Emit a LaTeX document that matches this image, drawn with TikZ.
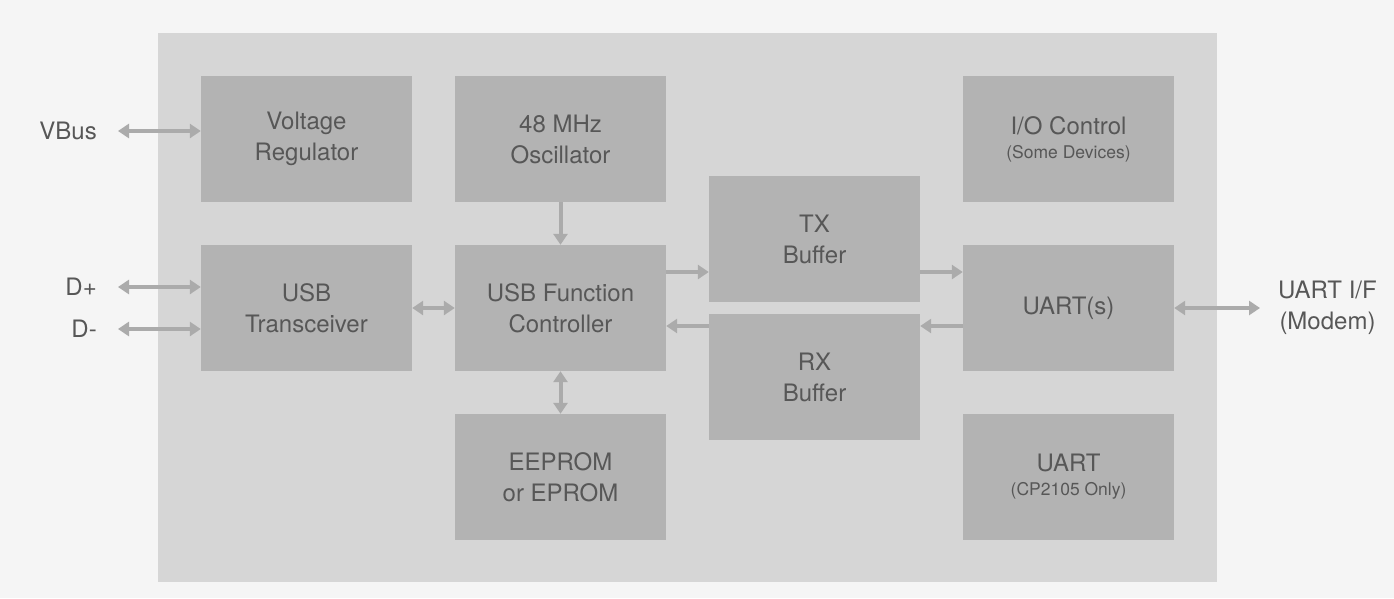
\documentclass[tikz,border=0pt]{standalone}
\usepackage{fontspec}
\setmainfont{TeX Gyre Heros}
\usetikzlibrary{arrows.meta}
\definecolor{pagebg}{HTML}{F5F5F5}
\definecolor{chipbg}{HTML}{D6D6D6}
\definecolor{blockbg}{HTML}{B3B3B3}
\definecolor{arrowc}{HTML}{ABABAB}
\definecolor{textc}{HTML}{575757}
\tikzset{
  block/.style={rectangle, fill=blockbg, minimum width=211pt, minimum height=126pt, inner sep=0pt, align=center, text=textc, font=\fontsize{24}{31}\selectfont},
  extlabel/.style={inner sep=0pt, text=textc, align=center, font=\fontsize{24}{31}\selectfont},
  arr/.style={draw=arrowc, line width=4pt, -{Triangle[length=11pt,width=14pt]}},
  darr/.style={draw=arrowc, line width=4pt, {Triangle[length=11pt,width=14pt]}-{Triangle[length=11pt,width=14pt]}}
}
\newcommand{\subtxt}[1]{{\fontsize{17.5}{20}\selectfont #1}}
\begin{document}
\begin{tikzpicture}[x=1pt,y=-1pt]
\fill[pagebg] (0,0) rectangle (1394,598);
\useasboundingbox (0,0) rectangle (1394,598);
\fill[chipbg] (158,33) rectangle (1217,582);

\node[block] (reg) at (306.5,139) {Voltage\\Regulator};
\node[block] (osc) at (560.5,139) {48 MHz\\Oscillator};
\node[block] (xcvr) at (306.5,308) {USB\\Transceiver};
\node[block] (ctrl) at (560.5,308) {USB Function\\Controller};
\node[block] (tx) at (814.5,239) {TX\\Buffer};
\node[block] (rx) at (814.5,377) {RX\\Buffer};
\node[block] (eeprom) at (560.5,477) {EEPROM\\or EPROM};
\node[block] (io) at (1068.5,139) {I/O Control\\[-7pt]\subtxt{(Some Devices)}};
\node[block] (uarts) at (1068.5,308) {UART(s)};
\node[block] (uart) at (1068.5,477) {UART\\[-7pt]\subtxt{(CP2105 Only)}};

\node[extlabel, anchor=east] (vbus) at (97,131) {VBus};
\node[extlabel, anchor=east] (dplus) at (97,287) {D+};
\node[extlabel, anchor=east] (dminus) at (97,329) {D-};
\node[extlabel, anchor=west] (uartif) at (1278,308) {UART I/F\\(Modem)};

\draw[darr, shorten <=21pt] (vbus.east) -- (reg.west |- vbus.east);
\draw[darr, shorten <=21pt] (dplus.east) -- (xcvr.west |- dplus.east);
\draw[darr, shorten <=21pt] (dminus.east) -- (xcvr.west |- dminus.east);
\draw[darr] (xcvr.east) -- (ctrl.west);
\draw[arr] (osc.south) -- (ctrl.north);
\draw[darr] (ctrl.south) -- (eeprom.north);
\draw[arr] (ctrl.east |- 0,272) -- (tx.west |- 0,272);
\draw[arr] (rx.west |- 0,326) -- (ctrl.east |- 0,326);
\draw[arr] (tx.east |- 0,272) -- (uarts.west |- 0,272);
\draw[arr] (uarts.west |- 0,326) -- (rx.east |- 0,326);
\draw[darr, shorten >=18pt] (uarts.east) -- (uartif.west);
\end{tikzpicture}
\end{document}
